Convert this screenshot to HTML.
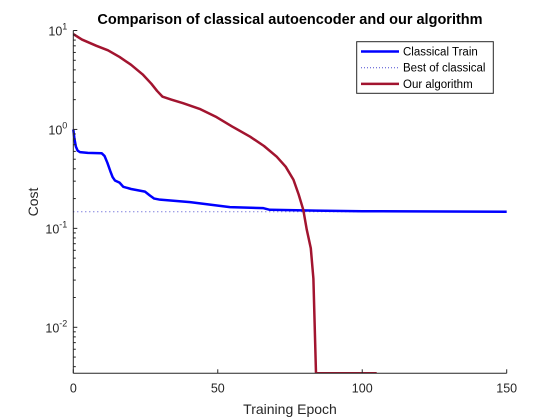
<!DOCTYPE html>
<html><head><meta charset="utf-8"><style>
body{margin:0;background:#fff;}
svg{display:block;font-family:"Liberation Sans",sans-serif;}
</style></head><body>
<svg id="chart" width="560" height="420"></svg>
<script>
const xTicks=[0,50,100,150];
const yTickExps=[-2,-1,0,1];
const classicalEpochs=[0,0.4,0.9,1.5,2.3,5,9.8,10.8,11.8,12.8,13.6,14.4,16,17.3,20,24.8,26.5,28,30,40.4,54.2,65.8,68,84,100,150];
const classicalCost=[1.0,0.8,0.67,0.61,0.59,0.58,0.575,0.54,0.46,0.38,0.33,0.305,0.29,0.263,0.25,0.235,0.215,0.2,0.195,0.184,0.164,0.16,0.154,0.151,0.149,0.147];
const bestClassical=0.147;
const oursEpochs=[0,3,8,12,16,20,24,27,29,30.9,34,38,44,49.6,55,61.2,66,70.4,73.5,76.2,78,79.6,80.8,82.2,83.1,84,105];
const oursCost=[9.2,8.1,7.0,6.3,5.4,4.5,3.6,2.9,2.45,2.14,2.0,1.84,1.6,1.33,1.07,0.845,0.68,0.53,0.42,0.31,0.22,0.154,0.097,0.063,0.031,0.00343,0.00343];
const NS="http://www.w3.org/2000/svg";
const svg=document.getElementById('chart');
const L=73.3,R=506.7,T=30.5,B=373.3;
const yMinLog=-2.465,yMaxLog=1;
const xs=v=>L+(v-0)/150*(R-L);
const ys=v=>B-(Math.log10(v)-yMinLog)/(yMaxLog-yMinLog)*(B-T);
function mk(tag,attrs,parent){const e=document.createElementNS(NS,tag);for(const k in attrs)e.setAttribute(k,attrs[k]);(parent||svg).appendChild(e);return e;}
let t=mk('text',{x:290,y:24,'text-anchor':'middle','font-size':14.5,'font-weight':'bold',fill:'#000'});
t.textContent='Comparison of classical autoencoder and our algorithm';


function line(ex,vals,attrs,name){
  const d=ex.map((e,i)=>(i?'L':'M')+xs(e).toFixed(2)+' '+ys(vals[i]).toFixed(2)).join(' ');
  const p=mk('path',Object.assign({d:d,fill:'none'},attrs));
  
  
}
const clip=mk('clipPath',{id:'c'});mk('rect',{x:L,y:T-10,width:R-L,height:B-T+10},clip);
let bl=mk('line',{x1:xs(0),x2:xs(150),y1:ys(bestClassical),y2:ys(bestClassical),stroke:'#4a4ad0','stroke-width':1,'stroke-dasharray':'1 3'});


line(classicalEpochs,classicalCost,{stroke:'#0000ff','stroke-width':2.5,'stroke-linejoin':'round'},'classical-train-line');
line(oursEpochs,oursCost,{stroke:'#a2142f','stroke-width':2.5,'stroke-linejoin':'round','clip-path':'url(#c)'},'our-algorithm-line');
mk('line',{x1:L,x2:R,y1:B,y2:B,stroke:'#262626','stroke-width':1});
mk('line',{x1:L,x2:L,y1:T,y2:B,stroke:'#262626','stroke-width':1});
xTicks.forEach(v=>{
  mk('line',{x1:xs(v),x2:xs(v),y1:B,y2:B-4,stroke:'#262626'});
  const tx=mk('text',{x:xs(v),y:B+19,'text-anchor':'middle','font-size':12.5,fill:'#262626'});
  tx.textContent=v;
  
  
});
yTickExps.forEach(e=>{
  const y=ys(Math.pow(10,e));
  mk('line',{x1:L,x2:L+4,y1:y,y2:y,stroke:'#262626'});
  const tx=mk('text',{x:L-6,y:y+5,'text-anchor':'end','font-size':12.5,fill:'#262626'});
  tx.innerHTML='10<tspan dy="-6" font-size="9">'+e+'</tspan>';
  
  
});
for(let e=-3;e<1;e++)for(let m=2;m<10;m++){const v=m*Math.pow(10,e);const y=ys(v);if(y<=B&&y>=T)mk('line',{x1:L,x2:L+2.5,y1:y,y2:y,stroke:'#262626'});}
let xl=mk('text',{x:290,y:414,'text-anchor':'middle','font-size':14,fill:'#262626'});xl.textContent='Training Epoch';


let yl=mk('text',{x:0,y:0,'text-anchor':'middle','font-size':14,fill:'#262626',transform:'translate(38,202) rotate(-90)'});yl.textContent='Cost';


const lg=mk('g',{});


mk('rect',{x:356.7,y:41.7,width:136.6,height:51.6,fill:'#fff',stroke:'#262626','stroke-width':1},lg);
const items=[['Classical Train',{stroke:'#0000ff','stroke-width':2.5}],['Best of classical',{stroke:'#4a4ad0','stroke-width':1,'stroke-dasharray':'1 2'}],['Our algorithm',{stroke:'#a2142f','stroke-width':2.5}]];
items.forEach((it,i)=>{
  const y=51.5+i*16.2;
  mk('line',Object.assign({x1:361,x2:399,y1:y,y2:y},it[1]),lg);
  const tx=mk('text',{x:403,y:y+4,'font-size':11.5,fill:'#000'},lg);
  tx.textContent=it[0];
  
  
});
</script>
</body></html>
